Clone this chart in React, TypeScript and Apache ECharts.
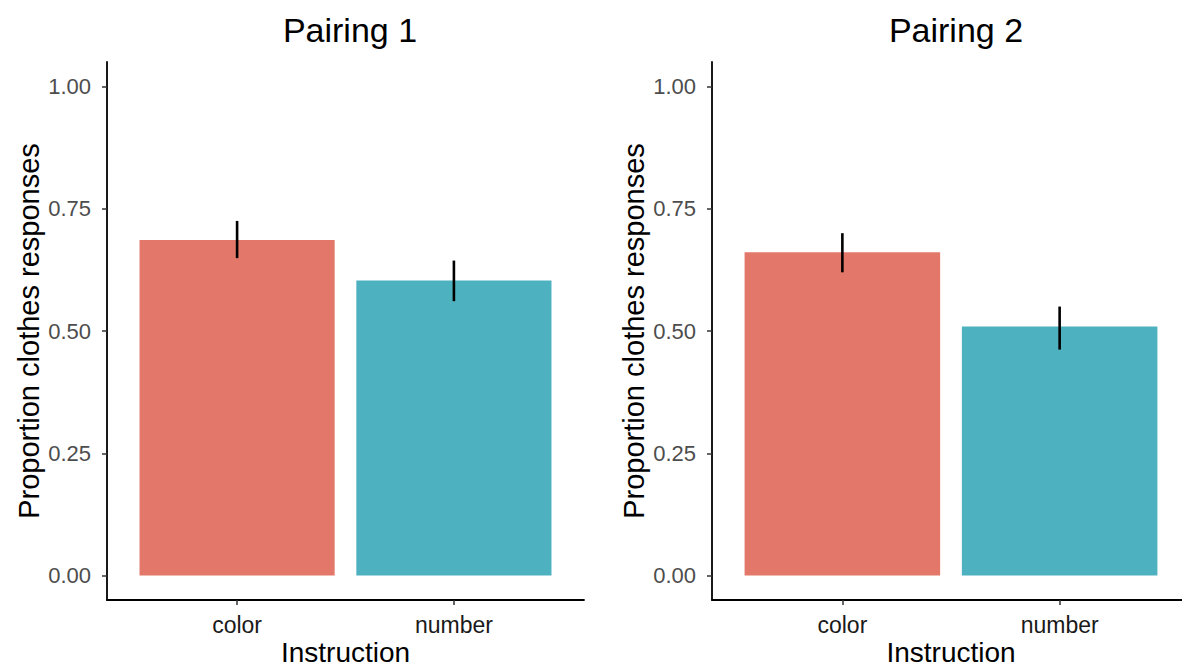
import React, { useEffect, useRef } from "react";
import * as echarts from "echarts";

const categories = ["color", "number"];
const categoryPositions = [1, 2];
const panelTitles = ["Pairing 1", "Pairing 2"];
const pairing1Means = [0.686, 0.603];
const pairing1Lower = [0.649, 0.561];
const pairing1Upper = [0.725, 0.644];
const pairing2Means = [0.661, 0.509];
const pairing2Lower = [0.62, 0.462];
const pairing2Upper = [0.7, 0.55];
const yTicks = [0, 0.25, 0.5, 0.75, 1];
const barColors = ["#E3786A", "#4DB1BF"];

const FONT = "Liberation Sans";

export default function App() {
  const ref = useRef<HTMLDivElement>(null);
  useEffect(() => {
    if (!ref.current) return;
    const chart = echarts.init(ref.current, undefined, { renderer: "svg" });
    const panels = [
      { means: pairing1Means, lower: pairing1Lower, upper: pairing1Upper },
      { means: pairing2Means, lower: pairing2Lower, upper: pairing2Upper },
    ];
    const grids = [
      { left: 107, top: 62, width: 477, height: 538, outerBoundsMode: "none", containLabel: false },
      { left: 712, top: 62, width: 478, height: 538, outerBoundsMode: "none", containLabel: false },
    ];
    const xAxes = grids.map((_, i) => ({
      type: "value",
      gridIndex: i,
      min: 0.4,
      max: 2.6,
      splitLine: { show: false },
      axisLine: { show: true, onZero: false, lineStyle: { color: "#000", width: 1.8 } },
      axisTick: {
        show: true,
        customValues: categoryPositions,
        length: 5,
        lineStyle: { color: "#333", width: 1.5 },
      },
      axisLabel: {
        customValues: categoryPositions,
        formatter: (v: number) => categories[categoryPositions.indexOf(v)] ?? "",
        color: "#1a1a1a",
        fontSize: 23,
        fontFamily: FONT,
        margin: 13,
      },
      name: "Instruction",
      nameLocation: "middle",
      nameGap: 38,
      nameMoveOverlap: false,
      nameTextStyle: { color: "#000", fontSize: 28, fontFamily: FONT },
    }));
    const yAxes = grids.map((_, i) => ({
      type: "value",
      gridIndex: i,
      min: -0.05,
      max: 1.05,
      splitLine: { show: false },
      axisLine: { show: true, onZero: false, lineStyle: { color: "#000", width: 1.8 } },
      axisTick: {
        show: true,
        customValues: yTicks,
        length: 5,
        lineStyle: { color: "#333", width: 1.5 },
      },
      axisLabel: {
        customValues: yTicks,
        formatter: (v: number) => v.toFixed(2),
        color: "#4d4d4d",
        fontSize: 22,
        fontFamily: FONT,
        margin: 16,
      },
      name: "Proportion clothes responses",
      nameLocation: "middle",
      nameGap: 64,
      nameMoveOverlap: false,
      nameTextStyle: { color: "#000", fontSize: 29, fontFamily: FONT },
    }));
    const series: any[] = [];
    panels.forEach((p, i) => {
      series.push({
        type: "custom",
        xAxisIndex: i,
        yAxisIndex: i,
        data: categoryPositions.map((x, k) => [x, p.means[k]]),
        renderItem: (params: any, api: any) => {
          const x = api.value(0);
          const y = api.value(1);
          const p0 = api.coord([x - 0.45, y]);
          const p1 = api.coord([x + 0.45, 0]);
          return {
            type: "rect",
            shape: { x: p0[0], y: p0[1], width: p1[0] - p0[0], height: p1[1] - p0[1] },
            style: { fill: barColors[params.dataIndex] },
          };
        },
        z: 2,
      });
      series.push({
        type: "custom",
        xAxisIndex: i,
        yAxisIndex: i,
        data: categoryPositions.map((x, k) => [x, p.lower[k], p.upper[k]]),
        renderItem: (params: any, api: any) => {
          const x = api.value(0);
          const a = api.coord([x, api.value(1)]);
          const b = api.coord([x, api.value(2)]);
          return {
            type: "line",
            shape: { x1: a[0], y1: a[1], x2: b[0], y2: b[1] },
            style: { stroke: "#000", lineWidth: 2.6 },
          };
        },
        z: 3,
      });
    });
    chart.setOption({
      animation: false,
      backgroundColor: "#fff",
      title: panelTitles.map((t, i) => ({
        text: t,
        left: i === 0 ? 345 : 951,
        top: 8,
        textAlign: "center",
        textStyle: { fontSize: 34, fontWeight: "normal", color: "#000", fontFamily: FONT },
      })),
      grid: grids,
      xAxis: xAxes,
      yAxis: yAxes,
      series,
    });
    return () => chart.dispose();
  }, []);
  return (
    <div
      ref={ref}
      style={{ position: "absolute", left: 0, top: 0, width: 1182, height: 667 }}
    />
  );
}
